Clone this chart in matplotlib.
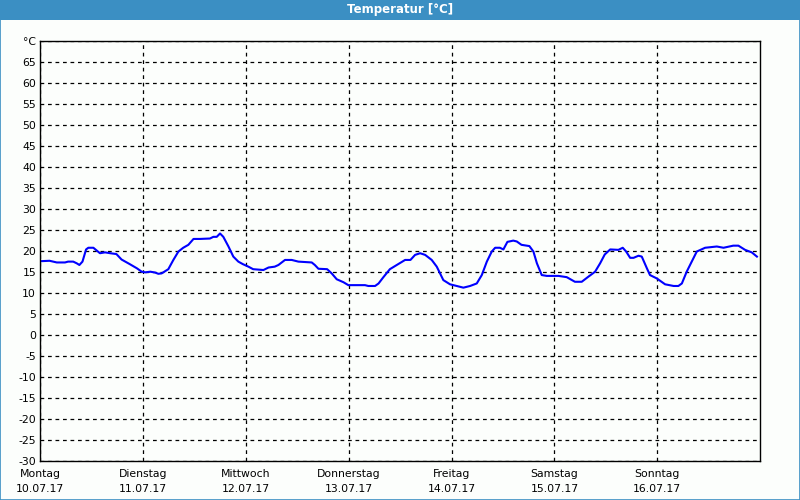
import matplotlib
matplotlib.use("Agg")
import matplotlib.pyplot as plt
from matplotlib.patches import Rectangle

# time in days since Monday 00:00, temperature in degC
days = [0.0, 0.09, 0.16, 0.24, 0.27, 0.32, 0.354, 0.38, 0.41, 0.445, 0.467, 0.516,
        0.58, 0.63, 0.68, 0.74, 0.79, 0.87, 0.94, 0.986, 1.02, 1.07, 1.116, 1.148,
        1.18, 1.245, 1.294, 1.343, 1.39, 1.44, 1.49, 1.553, 1.65, 1.683, 1.716, 1.748,
        1.78, 1.83, 1.877, 1.926, 1.97, 2.024, 2.07, 2.17, 2.22, 2.28, 2.316, 2.38,
        2.445, 2.51, 2.64, 2.67, 2.705, 2.79, 2.834, 2.883, 2.948, 2.996, 3.158, 3.19,
        3.256, 3.29, 3.337, 3.40, 3.467, 3.548, 3.6, 3.645, 3.694, 3.743, 3.807, 3.856,
        3.92, 3.985, 4.05, 4.115, 4.18, 4.245, 4.294, 4.343, 4.391, 4.424, 4.47, 4.504,
        4.543, 4.60, 4.634, 4.68, 4.757, 4.796, 4.83, 4.877, 4.926, 5.04, 5.12, 5.2,
        5.266, 5.33, 5.396, 5.445, 5.49, 5.543, 5.623, 5.665, 5.698, 5.737, 5.77, 5.818,
        5.85, 5.9, 5.93, 5.996, 6.077, 6.16, 6.206, 6.24, 6.287, 6.336, 6.385, 6.466,
        6.58, 6.645, 6.74, 6.79, 6.855, 6.92, 6.97]
temps = [17.5, 17.6, 17.2, 17.2, 17.4, 17.4, 17.0, 16.6, 17.4, 20.3, 20.7, 20.7,
         19.4, 19.6, 19.4, 19.2, 17.9, 16.8, 15.8, 15.0, 14.85, 15.0, 14.8, 14.5,
         14.6, 15.6, 17.8, 19.8, 20.7, 21.4, 22.8, 22.8, 22.9, 23.3, 23.3, 24.1,
         23.3, 21.0, 18.6, 17.4, 16.8, 16.2, 15.6, 15.4, 16.0, 16.2, 16.6, 17.8,
         17.8, 17.4, 17.2, 16.6, 15.7, 15.6, 14.6, 13.2, 12.5, 11.8, 11.8, 11.6,
         11.6, 12.2, 13.7, 15.6, 16.6, 17.8, 17.8, 19.0, 19.4, 19.0, 17.8, 16.2,
         13.0, 12.0, 11.6, 11.2, 11.6, 12.2, 14.2, 17.4, 19.8, 20.7, 20.7, 20.3,
         22.1, 22.4, 22.2, 21.4, 21.1, 19.8, 17.0, 14.2, 14.0, 14.0, 13.7, 12.6,
         12.6, 13.8, 15.0, 17.0, 19.1, 20.3, 20.2, 20.7, 19.8, 18.3, 18.3, 18.8,
         18.6, 15.8, 14.2, 13.4, 12.0, 11.6, 11.6, 12.2, 15.0, 17.4, 19.8, 20.7,
         21.0, 20.7, 21.2, 21.2, 20.2, 19.6, 18.6]

day_names = ["Montag", "Dienstag", "Mittwoch", "Donnerstag", "Freitag", "Samstag", "Sonntag"]
dates = ["10.07.17", "11.07.17", "12.07.17", "13.07.17", "14.07.17", "15.07.17", "16.07.17"]
y_ticks = list(range(-30, 70, 5))

bg = "#fcfefc"
bar_blue = "#3b8fc3"

fig = plt.figure(figsize=(8, 5), dpi=100, facecolor=bg)
ax = fig.add_axes([0.0504, 0.0786, 0.8996, 0.84])
ax.set_facecolor(bg)

ax.plot(days, temps, color="#0000ff", lw=1.5, solid_joinstyle="round")

ax.set_xlim(0, 7)
ax.set_ylim(-30, 70)
ax.set_xticks(range(7))
ax.set_xticklabels([f"{n}\n{d}" for n, d in zip(day_names, dates)], fontsize=7.8, linespacing=1.6)
ax.set_yticks(y_ticks + [70])
ax.set_yticklabels([str(v) for v in y_ticks] + ["°C"], fontsize=7.8)
ax.tick_params(length=0, pad=3)
ax.tick_params(axis="x", pad=6)
ax.grid(True, color="black", linestyle=(0, (3, 3)), lw=0.9)
for s in ax.spines.values():
    s.set_color("black")
    s.set_linewidth(1)

# title bar and window border
fig.patches.append(Rectangle((0, 0.96), 1, 0.04, transform=fig.transFigure,
                             facecolor=bar_blue, edgecolor="none"))
fig.patches.append(Rectangle((0.0006, 0.001), 0.9988, 0.998, transform=fig.transFigure,
                             facecolor="none", edgecolor=bar_blue, lw=1.2))
fig.text(0.5, 0.98, "Temperatur [°C]", color="white", fontsize=8.5, fontweight="bold",
         ha="center", va="center")

fig.savefig("out.png", dpi=100, facecolor=bg)
